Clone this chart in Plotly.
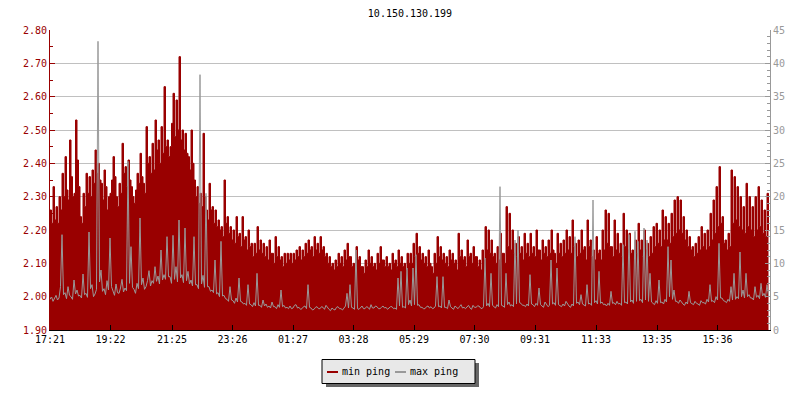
import pandas as pd
import plotly.graph_objects as go

title_text = "10.150.130.199"
start_time = "2024-01-01 17:21"
n_points = 480
step = "3min"

min_ping = [
    # 17:21 - 19:21
    2.26, 2.22, 2.33, 2.23, 2.27, 2.22, 2.30, 2.26, 2.37, 2.30, 2.42, 2.32, 2.29, 2.47, 2.36, 2.30,
    2.31, 2.53, 2.41, 2.33, 2.24, 2.22, 2.31, 2.27, 2.37, 2.31, 2.36, 2.30, 2.38, 2.34, 2.44, 2.37,
    2.40, 2.35, 2.34, 2.29, 2.38, 2.33, 2.26, 2.30, 2.31, 2.35, 2.42, 2.36, 2.30, 2.27, 2.34, 2.31,
    2.46, 2.37, 2.39, 2.33, 2.41, 2.35, 2.33, 2.30, 2.28, 2.32, 2.37, 2.34, 2.43, 2.36, 2.34, 2.31,
    2.51, 2.40, 2.42, 2.37, 2.46, 2.38, 2.53, 2.44, 2.47, 2.40, 2.51, 2.43, 2.63, 2.45, 2.47, 2.42,
    # 21:21 - 01:21
    2.45, 2.52, 2.61, 2.48, 2.59, 2.50, 2.72, 2.47, 2.50, 2.44, 2.49, 2.43, 2.42, 2.38, 2.50, 2.40,
    2.35, 2.30, 2.33, 2.28, 2.31, 2.27, 2.49, 2.30, 2.26, 2.23, 2.34, 2.26, 2.27, 2.22, 2.26, 2.21,
    2.23, 2.20, 2.21, 2.18, 2.35, 2.22, 2.24, 2.19, 2.21, 2.17, 2.20, 2.16, 2.24, 2.18, 2.19, 2.15,
    2.24, 2.17, 2.18, 2.14, 2.20, 2.15, 2.16, 2.12, 2.16, 2.13, 2.21, 2.14, 2.17, 2.13, 2.16, 2.12,
    2.15, 2.11, 2.17, 2.13, 2.13, 2.10, 2.18, 2.12, 2.15, 2.11, 2.12, 2.09, 2.13, 2.10, 2.13, 2.11,
    # 01:21 - 05:21
    2.13, 2.10, 2.13, 2.11, 2.14, 2.12, 2.15, 2.11, 2.14, 2.12, 2.16, 2.13, 2.17, 2.14, 2.15, 2.12,
    2.18, 2.14, 2.16, 2.13, 2.18, 2.14, 2.15, 2.12, 2.13, 2.10, 2.12, 2.09, 2.10, 2.08, 2.11, 2.09,
    2.13, 2.10, 2.12, 2.09, 2.14, 2.11, 2.16, 2.12, 2.12, 2.09, 2.10, 2.08, 2.15, 2.11, 2.12, 2.09,
    2.09, 2.07, 2.11, 2.09, 2.14, 2.10, 2.12, 2.09, 2.10, 2.08, 2.13, 2.10, 2.15, 2.11, 2.11, 2.09,
    2.12, 2.09, 2.10, 2.08, 2.13, 2.10, 2.11, 2.09, 2.14, 2.10, 2.12, 2.09, 2.10, 2.08, 2.13, 2.10,
    # 05:21 - 09:21
    2.13, 2.10, 2.16, 2.12, 2.19, 2.13, 2.15, 2.11, 2.13, 2.10, 2.12, 2.09, 2.14, 2.10, 2.09, 2.07,
    2.13, 2.10, 2.18, 2.12, 2.15, 2.11, 2.13, 2.10, 2.12, 2.09, 2.14, 2.11, 2.13, 2.10, 2.11, 2.08,
    2.19, 2.12, 2.14, 2.11, 2.12, 2.09, 2.17, 2.12, 2.13, 2.10, 2.15, 2.12, 2.12, 2.09, 2.11, 2.08,
    2.14, 2.11, 2.21, 2.14, 2.20, 2.13, 2.17, 2.12, 2.13, 2.10, 2.15, 2.11, 2.19, 2.13, 2.13, 2.10,
    2.27, 2.15, 2.25, 2.14, 2.20, 2.13, 2.16, 2.12, 2.18, 2.13, 2.15, 2.11, 2.19, 2.13, 2.16, 2.12,
    # 09:21 - 13:21
    2.19, 2.13, 2.15, 2.12, 2.20, 2.14, 2.14, 2.11, 2.17, 2.13, 2.15, 2.12, 2.17, 2.13, 2.20, 2.14,
    2.13, 2.10, 2.19, 2.13, 2.16, 2.12, 2.17, 2.13, 2.20, 2.14, 2.18, 2.13, 2.23, 2.15, 2.16, 2.12,
    2.17, 2.13, 2.20, 2.14, 2.15, 2.11, 2.23, 2.15, 2.17, 2.12, 2.14, 2.11, 2.18, 2.13, 2.14, 2.11,
    2.20, 2.14, 2.26, 2.16, 2.25, 2.15, 2.15, 2.12, 2.23, 2.14, 2.19, 2.13, 2.16, 2.12, 2.25, 2.15,
    2.20, 2.14, 2.19, 2.13, 2.14, 2.11, 2.17, 2.13, 2.22, 2.14, 2.17, 2.12, 2.20, 2.14, 2.16, 2.12,
    # 13:21 - 17:21
    2.18, 2.13, 2.21, 2.15, 2.22, 2.16, 2.20, 2.15, 2.26, 2.17, 2.24, 2.17, 2.22, 2.16, 2.25, 2.18,
    2.29, 2.19, 2.30, 2.20, 2.29, 2.19, 2.24, 2.17, 2.20, 2.15, 2.18, 2.14, 2.15, 2.12, 2.16, 2.13,
    2.18, 2.14, 2.21, 2.15, 2.19, 2.14, 2.20, 2.15, 2.25, 2.17, 2.29, 2.19, 2.33, 2.21, 2.39, 2.22,
    2.24, 2.16, 2.17, 2.14, 2.19, 2.15, 2.38, 2.22, 2.36, 2.23, 2.33, 2.21, 2.30, 2.20, 2.27, 2.19,
    2.34, 2.21, 2.30, 2.20, 2.27, 2.18, 2.30, 2.20, 2.33, 2.21, 2.29, 2.19, 2.26, 2.18, 2.31, 2.20,
]

max_ping = [
    # 17:21 - 19:21
    4.6, 5.0, 4.3, 4.8, 5.2, 4.5, 4.8, 6.5, 14.3, 5.3, 5.6, 4.7, 6.5, 5.2, 5.0, 4.6,
    7.5, 5.4, 6.0, 5.1, 5.2, 4.8, 8.4, 5.3, 5.5, 4.9, 14.7, 6.2, 6.8, 5.0, 5.4, 6.1,
    43.3, 7.2, 9.0, 5.8, 6.2, 5.3, 7.4, 6.0, 13.8, 6.5, 5.8, 5.2, 6.9, 5.6, 5.5, 6.3,
    7.6, 5.7, 6.3, 5.9, 25.3, 7.0, 12.5, 6.4, 6.1, 5.5, 7.0, 6.2, 16.8, 6.8, 7.8, 6.1,
    6.5, 7.4, 8.9, 6.6, 7.4, 7.0, 9.5, 7.3, 8.1, 6.9, 12.0, 7.5, 8.3, 7.6, 14.0, 8.0,
    # 21:21 - 01:21
    8.0, 7.0, 14.2, 7.6, 9.5, 7.2, 16.5, 7.8, 8.3, 7.1, 15.3, 7.4, 8.8, 6.9, 7.5, 6.6,
    14.0, 6.8, 6.8, 6.2, 38.3, 6.9, 8.2, 6.4, 20.5, 6.5, 6.5, 5.8, 6.0, 5.6, 10.5, 5.4,
    5.6, 5.0, 13.3, 5.1, 5.2, 4.7, 4.6, 4.3, 6.5, 4.5, 4.4, 4.0, 4.8, 4.2, 7.8, 4.3,
    4.2, 3.9, 4.0, 3.7, 6.8, 3.9, 3.8, 3.5, 4.1, 3.6, 8.5, 3.7, 3.7, 3.4, 4.5, 3.6,
    3.9, 3.4, 3.6, 3.3, 4.2, 3.5, 3.5, 3.2, 3.8, 3.4, 6.0, 3.5, 3.7, 3.3, 3.4, 3.2,
    # 01:21 - 05:21
    3.6, 3.2, 3.3, 3.7, 3.8, 3.3, 3.4, 3.1, 3.2, 3.5, 3.6, 3.2, 6.8, 3.4, 3.3, 3.0,
    3.1, 3.4, 3.5, 3.2, 3.2, 3.5, 3.4, 3.1, 3.7, 3.3, 3.1, 2.9, 3.3, 3.1, 3.0, 3.4,
    3.5, 3.2, 3.2, 3.0, 3.4, 3.6, 5.5, 3.3, 6.8, 3.4, 3.3, 3.1, 12.0, 3.2, 3.1, 3.4,
    3.6, 3.2, 3.2, 3.5, 3.4, 3.1, 3.8, 3.3, 3.3, 3.6, 3.5, 3.2, 3.2, 3.4, 3.6, 3.3,
    3.4, 3.1, 3.3, 3.5, 3.5, 3.2, 3.3, 3.1, 7.8, 3.6, 8.8, 3.4, 3.5, 3.3, 9.3, 3.8,
    # 05:21 - 09:21
    4.5, 3.6, 9.3, 3.8, 11.3, 3.7, 3.8, 3.4, 3.4, 3.2, 3.2, 3.5, 3.6, 3.3, 3.5, 3.2,
    3.3, 3.6, 8.0, 3.5, 3.6, 3.3, 8.0, 3.4, 3.4, 3.2, 4.5, 3.5, 3.3, 3.1, 3.6, 3.4,
    3.2, 3.5, 3.8, 3.3, 3.4, 3.2, 3.5, 3.7, 3.3, 3.1, 3.7, 3.4, 3.4, 3.6, 3.6, 3.3,
    3.2, 3.5, 10.8, 3.6, 4.0, 3.5, 8.5, 3.7, 3.5, 3.3, 3.8, 3.5, 21.5, 3.7, 3.6, 3.4,
    8.5, 3.8, 4.2, 3.6, 3.8, 3.5, 13.5, 3.9, 15.0, 4.1, 4.0, 3.7, 3.7, 3.5, 3.9, 3.6,
    # 09:21 - 13:21
    8.3, 3.9, 3.8, 3.5, 4.0, 3.7, 6.3, 3.8, 3.6, 3.4, 4.2, 3.8, 3.5, 3.7, 10.5, 3.9,
    4.1, 3.7, 9.3, 3.8, 3.7, 3.5, 3.9, 3.6, 4.3, 3.9, 3.6, 3.4, 3.9, 3.6, 14.0, 4.0,
    4.2, 3.8, 5.3, 3.9, 3.8, 3.6, 6.8, 3.9, 4.0, 3.7, 19.5, 4.1, 4.4, 3.9, 8.8, 4.0,
    4.2, 3.8, 3.9, 3.6, 4.0, 3.7, 5.8, 4.0, 4.1, 3.8, 4.3, 3.9, 4.0, 3.7, 12.8, 4.1,
    4.2, 3.9, 14.3, 4.2, 4.5, 4.0, 14.8, 4.3, 13.3, 4.4, 4.6, 4.1, 15.3, 4.5, 13.5, 4.3,
    # 13:21 - 17:21
    8.5, 4.2, 4.0, 3.8, 4.4, 4.0, 7.5, 4.1, 4.2, 3.9, 4.6, 4.2, 12.5, 5.0, 10.5, 4.6,
    6.0, 4.3, 4.3, 4.0, 4.5, 4.1, 3.9, 3.7, 4.2, 3.9, 5.8, 4.1, 4.0, 3.8, 4.3, 4.0,
    3.9, 3.7, 4.4, 4.1, 4.1, 3.9, 4.6, 4.2, 6.8, 4.3, 4.4, 4.1, 5.0, 4.5, 13.0, 4.8,
    4.8, 4.4, 4.3, 4.1, 4.6, 4.3, 6.5, 4.5, 8.5, 4.6, 5.0, 4.7, 11.7, 5.0, 6.0, 4.8,
    8.5, 5.0, 5.3, 4.8, 4.8, 4.5, 6.5, 4.9, 5.2, 4.7, 7.0, 5.1, 5.5, 4.9, 6.8, 5.2,
]

series_names = ["min ping", "max ping"]

tick_labels = ["17:21", "19:22", "21:25", "23:26", "01:27", "03:28",
               "05:29", "07:30", "09:31", "11:33", "13:35", "15:36"]
tick_dates = ["2024-01-01", "2024-01-01", "2024-01-01", "2024-01-01",
              "2024-01-02", "2024-01-02", "2024-01-02", "2024-01-02",
              "2024-01-02", "2024-01-02", "2024-01-02", "2024-01-02"]

times = pd.date_range(start_time, periods=n_points, freq=step)
tick_vals = [pd.Timestamp(d + " " + t) for d, t in zip(tick_dates, tick_labels)]
x_end = pd.Timestamp(start_time) + pd.Timedelta(minutes=1440)

RED = "#990000"
GRAY = "#999999"
FONT = "DejaVu Sans Mono"

# plot area in pixels: x 50..770, y 30..330
PL, PR, PT, PB = 50, 770, 30, 330
def px(x):
    return (x - PL) / (PR - PL)
def py(y):
    return (PB - y) / (PB - PT)

fig = go.Figure()
fig.add_trace(go.Scatter(
    x=times, y=min_ping, name=series_names[0], mode="lines",
    line=dict(color=RED, width=1, shape="hv"),
    fill="tozeroy", fillcolor=RED, yaxis="y", showlegend=False,
))
fig.add_trace(go.Scatter(
    x=times, y=max_ping, name=series_names[1], mode="lines",
    line=dict(color=GRAY, width=1),
    yaxis="y2", showlegend=False,
))

fig.update_layout(
    width=800, height=400,
    margin=dict(l=PL, r=800 - PR, t=PT, b=400 - PB, autoexpand=False),
    paper_bgcolor="white", plot_bgcolor="white",
    font=dict(family=FONT, size=10, color="black"),
    title=dict(text=title_text, x=0.5, xref="paper", xanchor="center",
               y=1 - 10 / 400, yanchor="top",
               font=dict(family=FONT, size=10, color="black")),
    xaxis=dict(
        type="date", range=[times[0], x_end],
        tickvals=tick_vals, ticktext=tick_labels,
        showgrid=False, showline=True, linecolor="black", linewidth=1,
        ticks="inside", ticklen=5, tickcolor="black",
        tickfont=dict(family=FONT, size=10, color="black"),
        zeroline=False,
    ),
    yaxis=dict(
        range=[1.90, 2.80], dtick=0.1, tickformat=".2f",
        showgrid=True, gridcolor="#c0c0c0", gridwidth=1,
        showline=True, linecolor=RED, linewidth=1,
        ticks="inside", ticklen=5, tickcolor=RED,
        tickfont=dict(family=FONT, size=10, color=RED),
        minor=dict(dtick=0.05, ticks="inside", ticklen=3, tickcolor=RED, showgrid=False),
        zeroline=False,
    ),
    yaxis2=dict(
        range=[0, 45], dtick=5, overlaying="y", side="right",
        showgrid=False, showline=True, linecolor=GRAY, linewidth=1,
        ticks="inside", ticklen=5, tickcolor=GRAY,
        tickfont=dict(family=FONT, size=10, color=GRAY),
        minor=dict(dtick=1, ticks="inside", ticklen=3, tickcolor=GRAY, showgrid=False),
        zeroline=False,
    ),
    showlegend=False,
)

# legend drawn by hand: shadow, box, swatches, labels
fig.add_shape(type="rect", xref="paper", yref="paper",
              x0=px(326), x1=px(479), y0=py(363), y1=py(387),
              fillcolor="#666666", line=dict(width=0))
fig.add_shape(type="rect", xref="paper", yref="paper",
              x0=px(322), x1=px(475), y0=py(359.5), y1=py(383.5),
              fillcolor="#e8e8e8", line=dict(color="black", width=1))
swatches = [(327, 338, RED, 341), (395, 406, GRAY, 409)]
for (x0, x1, col, tx), name in zip(swatches, series_names):
    fig.add_shape(type="line", xref="paper", yref="paper",
                  x0=px(x0), x1=px(x1), y0=py(372), y1=py(372),
                  line=dict(color=col, width=2))
    fig.add_annotation(text=name, xref="paper", yref="paper",
                       x=px(tx), y=py(371.5), xanchor="left", yanchor="middle",
                       showarrow=False, borderpad=0,
                       font=dict(family=FONT, size=10, color="black"))

fig.write_html("out.html", config={"displayModeBar": False},
               post_script="document.body.style.margin='0';document.body.style.padding='0';")
